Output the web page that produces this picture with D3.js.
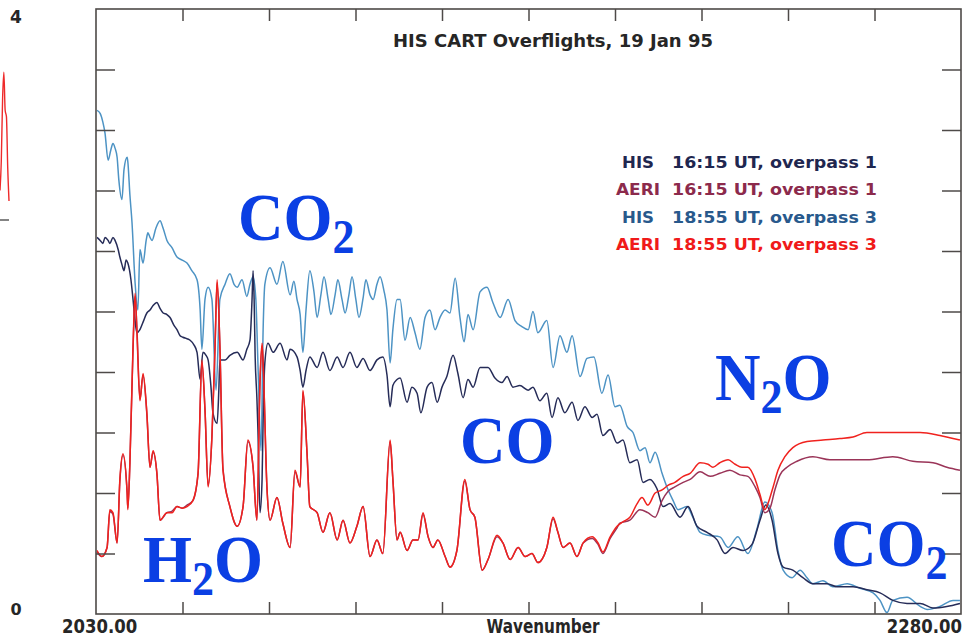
<!DOCTYPE html>
<html>
<head>
<meta charset="utf-8">
<script src="https://cdn.jsdelivr.net/npm/d3@7"></script>
<style>
  html, body { margin: 0; padding: 0; background: #ffffff; }
  svg { display: block; }
</style>
</head>
<body>
<svg id="chart" width="966" height="636"></svg>
<script>
// ---- axis ranges and ticks ----
const xDomain = [2030, 2280];
const yDomain = [0, 4];
const xTickValues = [2055, 2080, 2105, 2130, 2155, 2180, 2205, 2230, 2255];
const yTickValues = [0.4, 0.8, 1.2, 1.6, 2.0, 2.4, 2.8, 3.2, 3.6];
const xAxisTitle = "Wavenumber";
const chartTitle = "HIS CART Overflights, 19 Jan 95";

// ---- spectra: [wavenumber, radiance] ----
// HIS 16:15 UT, overpass 1
const his1 = [
  [2030.3,2.49],[2031.2,2.47],[2032.0,2.45],[2032.6,2.49],[2033.5,2.47],[2034.0,2.45],[2034.9,2.49],[2035.5,2.47],
  [2036.4,2.41],[2036.9,2.36],[2037.5,2.31],[2038.1,2.27],[2038.7,2.34],[2039.2,2.32],[2040.1,2.21],[2040.7,2.08],
  [2041.3,1.94],[2041.8,1.86],[2042.7,1.88],[2043.6,1.93],[2044.7,1.99],[2045.6,2.01],[2046.5,2.04],[2047.6,2.06],
  [2048.5,2.02],[2049.4,1.99],[2050.5,1.98],[2051.4,1.96],[2052.5,1.91],[2053.4,1.88],[2054.3,1.84],[2055.1,1.83],
  [2056.3,1.82],[2057.2,1.81],[2058.3,1.78],[2059.2,1.73],[2060.1,1.55],[2060.9,1.73],[2061.8,1.71],[2062.4,1.68],
  [2063.2,1.51],[2063.8,1.33],[2065.0,1.26],[2065.5,1.48],[2065.8,1.68],[2067.3,1.68],[2068.7,1.71],[2070.8,1.73],
  [2072.5,1.68],[2073.6,1.75],[2074.5,1.81],[2075.1,2.08],[2075.4,2.27],[2075.7,2.08],[2076.0,1.70],[2076.5,1.43],
  [2076.8,1.22],[2077.4,0.67],[2078.0,0.89],[2078.3,1.28],[2078.8,1.66],[2079.7,1.79],[2081.2,1.73],[2083.2,1.79],
  [2085.2,1.68],[2086.1,1.75],[2088.1,1.70],[2089.0,1.61],[2089.8,1.50],[2090.7,1.61],[2091.8,1.70],[2093.9,1.63],
  [2095.6,1.73],[2097.6,1.61],[2099.7,1.70],[2101.4,1.63],[2103.4,1.73],[2105.4,1.63],[2107.2,1.69],[2109.2,1.61],
  [2111.2,1.68],[2112.9,1.70],[2114.1,1.58],[2115.0,1.37],[2115.8,1.51],[2117.0,1.55],[2117.9,1.56],[2119.9,1.40],
  [2121.3,1.50],[2122.8,1.46],[2123.9,1.33],[2125.7,1.50],[2127.1,1.53],[2128.6,1.40],[2130.0,1.50],[2131.4,1.57],
  [2133.2,1.71],[2134.6,1.59],[2136.1,1.43],[2137.5,1.55],[2139.0,1.50],[2141.0,1.63],[2143.3,1.63],[2145.3,1.56],
  [2147.3,1.53],[2148.8,1.57],[2150.5,1.50],[2152.5,1.51],[2154.9,1.48],[2156.3,1.50],[2158.3,1.41],[2160.3,1.46],
  [2161.8,1.30],[2163.5,1.43],[2165.5,1.33],[2167.6,1.40],[2169.3,1.28],[2171.3,1.37],[2173.4,1.30],[2174.8,1.32],
  [2176.5,1.18],[2178.6,1.22],[2180.6,1.13],[2182.3,1.15],[2184.3,1.00],[2186.4,1.02],[2188.1,0.87],[2190.1,0.89],
  [2192.1,0.83],[2193.9,0.71],[2195.9,0.73],[2198.8,0.64],[2201.1,0.71],[2203.7,0.58],[2206.6,0.54],[2209.5,0.49],
  [2211.8,0.40],[2214.1,0.44],[2217.0,0.42],[2219.6,0.46],[2221.9,0.62],[2223.6,0.72],[2225.4,0.62],[2227.1,0.40],
  [2228.6,0.31],[2231.4,0.29],[2234.3,0.24],[2237.2,0.20],[2241.3,0.20],[2244.2,0.18],[2248.8,0.18],[2252.8,0.16],
  [2256.6,0.14],[2260.3,0.09],[2264.4,0.07],[2268.2,0.07],[2271.9,0.04],[2275.9,0.05],[2279.7,0.07]
];

// AERI 16:15 UT, overpass 1
const aeri1 = [
  [2030.3,0.41],[2031.7,0.38],[2033.2,0.44],[2034.0,0.68],[2034.9,0.66],[2036.1,0.47],[2036.9,0.88],[2037.8,1.05],
  [2039.0,0.80],[2039.2,0.70],[2039.8,1.00],[2040.7,1.75],[2041.3,2.10],[2041.8,1.90],[2042.7,1.42],[2043.6,1.58],
  [2044.7,1.32],[2045.6,0.97],[2046.5,1.07],[2047.6,0.93],[2048.5,0.62],[2050.5,0.67],[2052.0,0.68],[2053.4,0.71],
  [2054.9,0.70],[2056.3,0.72],[2058.0,0.75],[2059.5,0.93],[2060.6,1.66],[2061.5,1.35],[2062.4,0.85],[2063.5,1.17],
  [2064.4,1.76],[2065.0,2.19],[2065.8,1.78],[2066.7,0.96],[2068.7,0.71],[2070.8,0.58],[2072.5,0.71],[2073.9,1.14],
  [2075.4,0.97],[2076.5,0.62],[2077.4,1.53],[2078.0,1.77],[2078.3,1.66],[2079.4,0.84],[2080.3,0.62],[2082.3,0.77],
  [2084.0,0.60],[2086.1,0.44],[2087.5,0.94],[2089.0,0.84],[2089.8,1.47],[2091.0,1.06],[2091.8,0.71],[2093.9,0.67],
  [2095.6,0.54],[2097.6,0.67],[2099.7,0.49],[2101.4,0.62],[2103.4,0.47],[2105.4,0.58],[2107.2,0.71],[2109.2,0.38],
  [2111.2,0.49],[2112.9,0.40],[2115.0,1.14],[2115.8,0.89],[2117.0,0.49],[2117.9,0.54],[2119.9,0.42],[2121.6,0.49],
  [2123.1,0.49],[2124.5,0.66],[2126.0,0.51],[2127.4,0.44],[2128.8,0.49],[2130.9,0.38],[2132.3,0.31],[2134.3,0.42],
  [2136.6,0.88],[2138.1,0.69],[2139.5,0.64],[2141.6,0.29],[2143.3,0.36],[2145.9,0.51],[2147.6,0.47],[2149.7,0.36],
  [2152.0,0.44],[2154.0,0.38],[2156.0,0.40],[2157.7,0.34],[2160.3,0.44],[2162.1,0.63],[2163.5,0.54],[2165.0,0.44],
  [2167.0,0.47],[2169.0,0.38],[2170.8,0.47],[2173.4,0.50],[2175.1,0.46],[2176.5,0.40],[2178.6,0.50],[2180.6,0.57],
  [2181.4,0.60],[2184.3,0.62],[2187.2,0.69],[2189.5,0.67],[2191.6,0.64],[2193.6,0.75],[2195.3,0.81],[2197.3,0.84],
  [2199.7,0.87],[2201.7,0.89],[2204.6,0.94],[2207.5,0.91],[2210.3,0.93],[2213.2,0.95],[2216.1,0.92],[2218.4,0.91],
  [2220.5,0.84],[2221.9,0.77],[2223.3,0.67],[2224.8,0.70],[2226.2,0.82],[2227.7,0.92],[2229.7,0.97],[2232.6,1.01],
  [2237.2,1.04],[2242.1,1.02],[2247.1,1.02],[2252.8,1.02],[2260.3,1.04],[2266.1,1.01],[2271.9,1.00],[2275.9,0.97],
  [2279.7,0.95]
];

// HIS 18:55 UT, overpass 3
const his3 = [
  [2030.3,3.33],[2031.2,3.31],[2032.0,3.25],[2032.6,3.18],[2033.5,3.00],[2034.3,3.07],[2034.9,3.11],[2035.5,3.08],
  [2036.1,3.02],[2036.6,2.87],[2037.5,2.74],[2038.1,2.94],[2039.0,3.02],[2039.2,2.99],[2039.8,2.77],[2040.4,2.59],
  [2041.3,2.19],[2042.1,2.01],[2042.7,2.41],[2043.6,2.32],[2044.5,2.47],[2045.0,2.52],[2045.6,2.49],[2046.2,2.47],
  [2047.3,2.55],[2048.5,2.60],[2049.4,2.55],[2050.5,2.47],[2052.0,2.42],[2053.4,2.36],[2054.9,2.34],[2056.3,2.32],
  [2057.7,2.27],[2059.2,2.21],[2060.1,2.01],[2060.6,1.75],[2061.5,2.08],[2062.4,2.16],[2063.5,2.08],[2064.7,1.48],
  [2065.8,2.08],[2067.3,2.18],[2068.7,2.25],[2069.9,2.18],[2070.8,2.16],[2072.2,2.21],[2073.6,2.10],[2074.5,2.18],
  [2075.4,2.23],[2076.2,2.08],[2076.8,1.66],[2077.7,1.08],[2078.3,1.88],[2078.8,2.18],[2080.3,2.29],[2082.3,2.18],
  [2084.0,2.33],[2086.1,2.11],[2087.2,2.20],[2088.1,2.08],[2089.0,1.98],[2089.8,1.73],[2090.7,2.01],[2091.8,2.27],
  [2093.0,2.13],[2093.9,1.96],[2095.0,2.11],[2095.9,2.23],[2097.1,2.08],[2097.9,1.98],[2099.1,2.11],[2099.9,2.21],
  [2101.1,2.08],[2102.0,1.99],[2103.1,2.11],[2104.0,2.23],[2105.1,2.08],[2106.0,1.96],[2107.2,2.09],[2108.0,2.21],
  [2109.2,2.11],[2110.1,2.08],[2111.2,2.18],[2112.1,2.23],[2113.2,2.14],[2114.1,2.01],[2115.0,1.66],[2115.8,1.88],
  [2117.0,2.08],[2117.9,2.08],[2119.3,1.81],[2120.8,1.96],[2122.2,1.86],[2123.6,1.75],[2125.1,1.96],[2126.5,2.01],
  [2128.0,1.88],[2129.4,1.96],[2130.9,2.01],[2132.3,1.99],[2133.8,2.22],[2135.2,1.96],[2136.4,1.80],[2137.5,1.98],
  [2139.0,1.88],[2141.0,2.13],[2143.0,2.16],[2144.7,2.06],[2146.8,1.96],[2149.1,2.08],[2151.1,1.94],[2153.1,1.90],
  [2154.9,1.88],[2156.3,2.00],[2157.7,1.86],[2160.3,1.94],[2162.1,1.63],[2164.1,1.84],[2166.1,1.73],[2167.6,1.84],
  [2169.9,1.57],[2171.9,1.69],[2173.9,1.70],[2176.2,1.46],[2178.0,1.58],[2180.0,1.37],[2181.4,1.38],[2183.5,1.24],
  [2185.2,1.20],[2187.2,1.08],[2188.7,1.10],[2190.1,1.00],[2191.6,1.07],[2193.6,0.93],[2195.0,0.84],[2196.8,0.75],
  [2198.2,0.69],[2200.8,0.71],[2202.5,0.64],[2204.6,0.54],[2206.9,0.52],[2210.3,0.51],[2212.7,0.44],[2215.5,0.51],
  [2218.4,0.40],[2221.0,0.56],[2223.3,0.74],[2225.4,0.67],[2227.1,0.42],[2228.6,0.29],[2231.2,0.24],[2233.5,0.29],
  [2235.5,0.24],[2237.2,0.20],[2240.1,0.22],[2243.0,0.18],[2247.1,0.20],[2250.8,0.17],[2254.6,0.14],[2256.6,0.09],
  [2258.6,0.01],[2260.3,0.09],[2264.4,0.11],[2268.2,0.05],[2270.2,0.03],[2273.9,0.05],[2277.7,0.09],[2279.7,0.09]
];

// AERI 18:55 UT, overpass 3
const aeri3 = [
  [2030.3,0.42],[2031.7,0.38],[2033.2,0.44],[2034.0,0.69],[2034.9,0.67],[2036.1,0.47],[2036.9,0.89],[2037.8,1.06],
  [2039.0,0.80],[2039.2,0.69],[2039.8,1.00],[2040.7,1.77],[2041.3,2.12],[2041.8,1.88],[2042.7,1.41],[2043.6,1.59],
  [2044.7,1.33],[2045.6,0.97],[2046.5,1.08],[2047.6,0.93],[2048.5,0.62],[2050.5,0.67],[2052.0,0.67],[2053.4,0.71],
  [2054.9,0.70],[2056.3,0.71],[2058.0,0.75],[2059.5,0.93],[2060.6,1.68],[2061.5,1.35],[2062.4,0.84],[2063.5,1.17],
  [2064.4,1.77],[2065.0,2.21],[2065.8,1.77],[2066.7,0.95],[2068.7,0.71],[2070.8,0.58],[2072.5,0.71],[2073.9,1.15],
  [2075.4,0.97],[2076.5,0.62],[2077.4,1.55],[2078.0,1.79],[2078.3,1.66],[2079.4,0.84],[2080.3,0.62],[2082.3,0.77],
  [2084.0,0.60],[2086.1,0.44],[2087.5,0.95],[2089.0,0.84],[2089.8,1.48],[2091.0,1.06],[2091.8,0.71],[2093.9,0.67],
  [2095.6,0.54],[2097.6,0.67],[2099.7,0.49],[2101.4,0.62],[2103.4,0.47],[2105.4,0.58],[2107.2,0.71],[2109.2,0.38],
  [2111.2,0.49],[2112.9,0.40],[2115.0,1.15],[2115.8,0.89],[2117.0,0.49],[2117.9,0.54],[2119.9,0.42],[2121.6,0.49],
  [2123.1,0.49],[2124.5,0.67],[2126.0,0.51],[2127.4,0.44],[2128.8,0.49],[2130.9,0.38],[2132.3,0.31],[2134.3,0.42],
  [2136.6,0.89],[2138.1,0.69],[2139.5,0.64],[2141.6,0.29],[2143.3,0.36],[2145.9,0.52],[2147.6,0.47],[2149.7,0.36],
  [2152.0,0.44],[2154.0,0.38],[2156.0,0.40],[2157.7,0.34],[2160.3,0.44],[2162.1,0.64],[2163.5,0.54],[2165.0,0.44],
  [2167.0,0.47],[2169.0,0.38],[2170.8,0.47],[2173.4,0.51],[2175.1,0.47],[2176.5,0.41],[2178.6,0.51],[2180.6,0.58],
  [2182.3,0.61],[2184.3,0.64],[2186.4,0.73],[2187.8,0.77],[2189.5,0.72],[2191.6,0.80],[2193.6,0.82],[2195.3,0.85],
  [2197.3,0.87],[2199.7,0.91],[2201.7,0.93],[2204.6,1.00],[2206.9,0.99],[2208.3,0.97],[2210.3,1.00],[2212.7,1.02],
  [2214.7,0.99],[2216.7,0.97],[2218.4,0.97],[2220.5,0.89],[2221.9,0.79],[2223.3,0.69],[2224.2,0.73],[2225.7,0.84],
  [2227.1,0.95],[2229.1,1.04],[2231.4,1.10],[2235.5,1.14],[2240.1,1.15],[2245.0,1.16],[2248.8,1.17],[2252.8,1.20],
  [2258.6,1.20],[2264.4,1.20],[2268.2,1.20],[2273.9,1.18],[2277.7,1.16],[2279.7,1.15]
];

// edge of the neighbouring panel (trace values on its own 0..1 scale)
const edgeTrace = [0.14, 0.28, 0.57, 0.70, 0.52, 0.49, 0.25, 0.09];

// ---- legend ----
const legendNames = ["HIS", "AERI", "HIS", "AERI"];
const legendRuns  = ["16:15 UT, overpass 1", "16:15 UT, overpass 1", "18:55 UT, overpass 3", "18:55 UT, overpass 3"];

// ---- absorber annotations: base symbol, subscript, tail ----
const absorbers = [
  ["C", "O", "2", ""],
  ["H", "", "2", "O"],
  ["C", "O", "", ""],
  ["N", "", "2", "O"],
  ["C", "O", "2", ""]
];

// ================= drawing =================
const plot = { left: 96, right: 961, top: 9, bottom: 614 };

const colors = {
  his1: "#262c58",
  aeri1: "#9a3458",
  his3: "#4d93c4",
  aeri3: "#f0221e",
  frame: "#4e4a48",
  text: "#262626",
  molecule: "#0b3fe3"
};
const legendColors = ["#1f2750", "#8c2a4c", "#28598c", "#f01a1a"];

const svg = d3.select("#chart");

const x = d3.scaleLinear().domain(xDomain).range([plot.left, plot.right]);
const y = d3.scaleLinear().domain(yDomain).range([plot.bottom, plot.top]);

svg.append("defs").append("clipPath").attr("id", "plotClip")
  .append("rect")
  .attr("x", plot.left).attr("y", plot.top)
  .attr("width", plot.right - plot.left).attr("height", plot.bottom - plot.top);

// neighbouring panel fragment at the far left
{
  const ex = d3.scaleLinear().domain([0, edgeTrace.length - 1]).range([0, 9]);
  const ey = d3.scaleLinear().domain([0, 1]).range([220, 9]);
  svg.append("path")
    .attr("d", d3.line().x((d, i) => ex(i)).y(d => ey(d)).curve(d3.curveMonotoneX)(edgeTrace))
    .attr("fill", "none").attr("stroke", "#ee2a2a").attr("stroke-width", 1.4);
  svg.append("line")
    .attr("x1", 0).attr("x2", 9).attr("y1", ey(0)).attr("y2", ey(0))
    .attr("stroke", "#333").attr("stroke-width", 1.2);
}

// spectra
const line = d3.line().x(d => x(d[0])).y(d => y(d[1])).curve(d3.curveMonotoneX);
const gLines = svg.append("g").attr("clip-path", "url(#plotClip)");
[
  [his3, colors.his3],
  [his1, colors.his1],
  [aeri1, colors.aeri1],
  [aeri3, colors.aeri3]
].forEach(([data, c]) => {
  gLines.append("path")
    .attr("d", line(data))
    .attr("fill", "none")
    .attr("stroke", c)
    .attr("stroke-width", 1.5)
    .attr("stroke-linejoin", "round");
});

// inward ticks on all four sides
function styleAxis(g) {
  g.select(".domain").remove();
  g.selectAll(".tick line").attr("stroke", colors.frame).attr("stroke-width", 1.5);
  g.selectAll(".tick text").remove();
}
svg.append("g").attr("transform", `translate(0,${plot.bottom})`)
  .call(d3.axisBottom(x).tickValues(xTickValues).tickSize(-12)).call(styleAxis);
svg.append("g").attr("transform", `translate(0,${plot.top})`)
  .call(d3.axisTop(x).tickValues(xTickValues).tickSize(-12)).call(styleAxis);
svg.append("g").attr("transform", `translate(${plot.left},0)`)
  .call(d3.axisLeft(y).tickValues(yTickValues).tickSize(-19)).call(styleAxis);
svg.append("g").attr("transform", `translate(${plot.right},0)`)
  .call(d3.axisRight(y).tickValues(yTickValues).tickSize(-19)).call(styleAxis);

// frame
svg.append("rect")
  .attr("x", plot.left).attr("y", plot.top)
  .attr("width", plot.right - plot.left).attr("height", plot.bottom - plot.top)
  .attr("fill", "none").attr("stroke", colors.frame).attr("stroke-width", 1.6);

// axis end labels (tall bold digits: font scaled vertically)
const labelFont = "'DejaVu Sans', Verdana, sans-serif";
const fmtX = d3.format(".2f");
function label(txt, xp, yp, anchor, size, sy, len) {
  const t = svg.append("text")
    .attr("transform", `translate(${xp},${yp}) scale(1,${sy})`)
    .attr("text-anchor", anchor)
    .attr("font-family", labelFont)
    .attr("font-weight", "bold")
    .attr("font-size", size)
    .attr("fill", colors.text)
    .text(txt);
  if (len) t.attr("textLength", len).attr("lengthAdjust", "spacingAndGlyphs");
  return t;
}
label(String(yDomain[1]), 16, 23, "middle", 17, 1.0);
label(String(yDomain[0]), 16, 615, "middle", 16, 1.0);
label(fmtX(xDomain[0]), 62, 633, "start", 16.5, 1.2);
label(fmtX(xDomain[1]), 962, 633, "end", 16.5, 1.2);
label(xAxisTitle, 543, 633, "middle", 16, 1.2, 113);

// title
label(chartTitle, 553, 47, "middle", 17, 1.0, 320);

// legend
legendNames.forEach((nm, i) => {
  const yy = 168 + i * 27.3;
  svg.append("text")
    .attr("x", 638).attr("y", yy)
    .attr("text-anchor", "middle")
    .attr("font-family", labelFont).attr("font-weight", "bold").attr("font-size", 16)
    .attr("fill", legendColors[i])
    .attr("textLength", nm.length === 3 ? 32 : 44).attr("lengthAdjust", "spacingAndGlyphs")
    .text(nm);
  svg.append("text")
    .attr("x", 672).attr("y", yy)
    .attr("font-family", labelFont).attr("font-weight", "bold").attr("font-size", 16)
    .attr("fill", legendColors[i])
    .attr("textLength", 205).attr("lengthAdjust", "spacingAndGlyphs")
    .text(legendRuns[i]);
});

// absorber annotations
const annotPos = [[238, 240], [143, 582], [460, 463], [715, 400], [831, 566]];
absorbers.forEach(([a, b, sub, c], i) => {
  const [ax, ay] = annotPos[i];
  const t = svg.append("text")
    .attr("transform", `translate(${ax},${ay}) scale(1,1.08)`)
    .attr("font-family", "'Liberation Serif', 'Times New Roman', serif")
    .attr("font-weight", "bold")
    .attr("font-size", 63)
    .attr("fill", colors.molecule);
  t.append("tspan").text(a + b);
  if (sub) t.append("tspan").attr("font-size", 44).attr("dy", 12).text(sub);
  if (c) t.append("tspan").attr("font-size", 63).attr("dy", -12).text(c);
});
</script>
</body>
</html>
